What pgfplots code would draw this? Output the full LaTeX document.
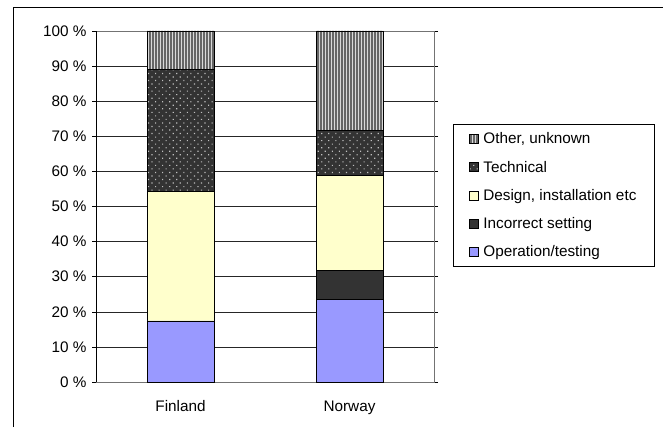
\documentclass[border=0pt]{standalone}
\usepackage{pgfplots}
\pgfplotsset{compat=1.18}
\usepackage{fontspec}
\setmainfont{Liberation Sans}
\usetikzlibrary{patterns.meta}

\definecolor{optest}{HTML}{9999FF}
\definecolor{incset}{HTML}{333333}
\definecolor{design}{HTML}{FFFFCC}
\definecolor{techn}{HTML}{333333}

\begin{document}
\begin{tikzpicture}[x=1bp,y=1bp]
\useasboundingbox (0,0) rectangle (663,427);
% outer chart frame
\draw[black, line width=0.9bp] (13,0) -- (13,420) -- (663,420);
\begin{axis}[
  at={(96bp,45bp)}, anchor=south west,
  scale only axis, width=338bp, height=351bp,
  ybar stacked, bar width=67bp,
  xmin=-0.5, xmax=1.5, ymin=0, ymax=100,
  xtick={0,1}, xticklabels={Finland,Norway},
  major x tick style={draw=none},
  extra x ticks={0.5}, extra x tick labels={},
  extra x tick style={major tick length=5bp, tick align=outside, tick style={draw=black!70}},
  ytick={0,10,...,100},
  yticklabel={\pgfmathprintnumber{\tick} \%},
  /pgf/number format/assume math mode=true,
  tick align=outside, major tick length=4bp,
  ymajorgrids, grid style={black!85, line width=0.6bp},
  axis line style={draw=black!55, line width=0.8bp},
  tick style={black, line width=0.6bp},
  tick label style={font=\fontsize{15.3bp}{17bp}\selectfont},
  xticklabel style={yshift=-11bp},
  yticklabel style={xshift=-2bp},
  every axis plot/.append style={draw=black, line width=0.7bp},
  reverse legend,
  legend cell align=left,
  legend style={at={(1.0562,0.735)}, anchor=north west,
    draw=black, line width=0.7bp,
    font=\fontsize{15.3bp}{17bp}\selectfont,
    inner xsep=16bp, inner ysep=7bp,
    row sep=12.5bp,
    nodes={inner sep=1.5bp}},
  legend image code/.code={\draw[#1, line width=0.5bp] (0bp,-4.5bp) rectangle (9bp,4.5bp);},
  legend style={/tikz/every odd column/.append style={column sep=3bp}},
]
\addplot[fill=optest] coordinates {(0,17.4) (1,23.6)};
\addplot[fill=incset] coordinates {(0,0) (1,8.2)};
\addplot[fill=design] coordinates {(0,37.0) (1,27.0)};
\addplot[fill=techn, postaction={pattern color=black!25, pattern={Dots[distance=5bp, radius=0.8bp, angle=45]}}] coordinates {(0,34.7) (1,12.8)};
\addplot[fill=black!15, postaction={pattern color=black!60, pattern={Lines[angle=90, distance=3bp, line width=1.2bp]}}] coordinates {(0,10.9) (1,28.4)};
\legend{Operation/testing, Incorrect setting, {Design, installation etc}, Technical, {Other, unknown}}
\draw[black, line width=0.8bp] (axis cs:-0.5,0) -- (axis cs:-0.5,100);
\end{axis}
\end{tikzpicture}
\end{document}
